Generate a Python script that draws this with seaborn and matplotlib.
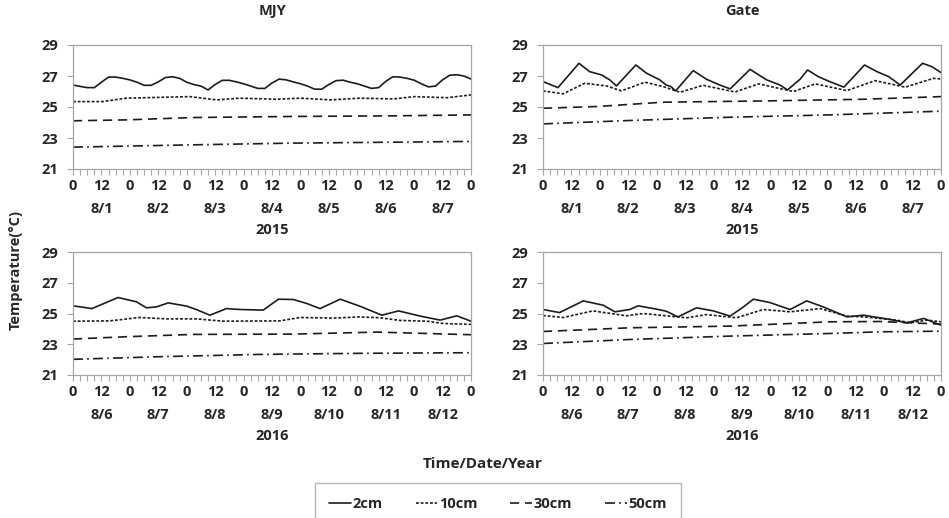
import matplotlib
matplotlib.use("Agg")
import matplotlib.pyplot as plt
from matplotlib.lines import Line2D
from matplotlib.ticker import MultipleLocator
import pandas as pd
import seaborn as sns

# ---- soil temperature records (hour since start of period, °C) ----
depths = ["2cm", "10cm", "30cm", "50cm"]
dates_2015 = ["8/1", "8/2", "8/3", "8/4", "8/5", "8/6", "8/7"]
dates_2016 = ["8/6", "8/7", "8/8", "8/9", "8/10", "8/11", "8/12"]
hour_ticks = ["0", "12"] * 7 + ["0"]
y_ticks = [21, 23, 25, 27, 29]

# MJY 2015
mjy15_h_2 = [0, 3, 6, 9, 12, 15, 18, 21, 24, 27, 30, 33, 36, 39, 42, 45, 48, 51, 54, 57,
             60, 63, 66, 69, 72, 75, 78, 81, 84, 87, 90, 93, 96, 99, 102, 105, 108, 111,
             114, 117, 120, 123, 126, 129, 132, 135, 138, 141, 144, 147, 150, 153, 156,
             159, 162, 165, 168]
mjy15_t_2 = [26.42, 26.33, 26.25, 26.25, 26.6, 26.93, 26.93, 26.85, 26.75, 26.6, 26.4,
             26.4, 26.62, 26.9, 26.95, 26.85, 26.6, 26.45, 26.35, 26.1, 26.45, 26.72,
             26.72, 26.62, 26.5, 26.35, 26.2, 26.2, 26.55, 26.8, 26.75, 26.62, 26.5,
             26.35, 26.15, 26.15, 26.45, 26.7, 26.73, 26.6, 26.5, 26.35, 26.2, 26.25,
             26.65, 26.95, 26.93, 26.85, 26.73, 26.5, 26.3, 26.35, 26.75, 27.05, 27.08,
             27.0, 26.8]
mjy15_h_10 = [0, 12.7, 22.5, 49.3, 60.6, 70.5, 86, 96, 108.5, 121, 135.3, 144, 158, 168]
mjy15_t_10 = [25.35, 25.35, 25.57, 25.67, 25.46, 25.57, 25.5, 25.57, 25.46, 25.57, 25.52,
              25.67, 25.6, 25.78]
mjy15_h_30 = [0, 22.6, 50.7, 93, 135.3, 168]
mjy15_t_30 = [24.11, 24.17, 24.32, 24.39, 24.43, 24.49]
mjy15_h_50 = [0, 50.7, 93, 135.3, 168]
mjy15_t_50 = [22.41, 22.56, 22.67, 22.73, 22.78]

# Gate 2015
gate15_h_2 = [0, 6.3, 15.2, 19.7, 24.7, 28.2, 31, 39.2, 43.7, 49.3, 52, 54, 56, 63.4, 69,
              74.6, 79, 87.4, 94.4, 100, 103.2, 108.5, 111.7, 116.2, 121, 127, 132.5,
              135.7, 141, 145.9, 150.8, 160.2, 164.2, 168]
gate15_t_2 = [26.64, 26.25, 27.82, 27.28, 27.07, 26.75, 26.36, 27.71, 27.18, 26.75, 26.42,
              26.32, 26.04, 27.35, 26.79, 26.42, 26.17, 27.43, 26.75, 26.42, 26.1, 26.79,
              27.39, 26.96, 26.64, 26.28, 27.18, 27.71, 27.28, 26.96, 26.42, 27.82, 27.6,
              27.22]
gate15_h_10 = [0, 8.5, 17.6, 26.8, 33.1, 43, 50.7, 57.8, 67.6, 81, 91, 105.7, 114.9, 128.3,
               140.2, 152.9, 164.9, 168]
gate15_t_10 = [26.04, 25.85, 26.53, 26.36, 26.04, 26.6, 26.32, 25.95, 26.4, 25.97, 26.49,
               26.0, 26.49, 26.06, 26.7, 26.28, 26.85, 26.81]
gate15_h_30 = [0, 22.6, 50.7, 93, 135.3, 168]
gate15_t_30 = [24.92, 25.03, 25.31, 25.39, 25.5, 25.67]
gate15_h_50 = [0, 36.6, 79, 121, 168]
gate15_t_50 = [23.91, 24.13, 24.34, 24.49, 24.73]

# MJY 2016
mjy16_h_2 = [0, 8, 19, 26.8, 31, 35.2, 40.2, 48, 52, 57.8, 64.8, 70.5, 80.3, 86.7, 93, 98.7,
             104.3, 112.8, 121, 130.4, 137.4, 146.6, 155, 162, 168]
mjy16_t_2 = [25.5, 25.32, 26.04, 25.76, 25.37, 25.43, 25.69, 25.48, 25.26, 24.89, 25.32,
             25.26, 25.22, 25.93, 25.91, 25.65, 25.32, 25.93, 25.48, 24.89, 25.17, 24.83,
             24.57, 24.85, 24.5]
mjy16_h_10 = [0, 15.5, 28.2, 39.5, 52, 63.4, 87.4, 95.8, 110, 121, 129.7, 138, 149.4, 156.4,
              168]
mjy16_t_10 = [24.5, 24.52, 24.74, 24.65, 24.65, 24.5, 24.52, 24.74, 24.7, 24.78, 24.72,
              24.55, 24.5, 24.35, 24.29]
mjy16_h_30 = [0, 22.6, 50.7, 93, 128.3, 149.4, 168]
mjy16_t_30 = [23.34, 23.49, 23.64, 23.66, 23.79, 23.7, 23.62]
mjy16_h_50 = [0, 36.6, 79, 121, 168]
mjy16_t_50 = [22.02, 22.19, 22.34, 22.41, 22.45]

# Gate 2016
gate16_h_2 = [0, 7, 17, 25.4, 30.3, 36.6, 40.2, 48, 52, 57, 64.8, 71.9, 79, 84.6, 88.8,
              95.8, 104.3, 111.3, 118.3, 128.3, 135.3, 146.6, 153.6, 160.7, 168]
gate16_t_2 = [25.26, 25.06, 25.82, 25.54, 25.11, 25.26, 25.5, 25.28, 25.15, 24.78, 25.37,
              25.17, 24.83, 25.43, 25.93, 25.71, 25.26, 25.82, 25.43, 24.78, 24.89, 24.61,
              24.39, 24.68, 24.24]
gate16_h_10 = [0, 8.5, 21.1, 35.2, 42.3, 60.6, 69, 81.7, 93, 104.3, 117, 128.3, 135.3,
               149.4, 155, 162, 168]
gate16_t_10 = [24.87, 24.74, 25.17, 24.85, 25.0, 24.72, 24.93, 24.72, 25.26, 25.11, 25.32,
               24.83, 24.78, 24.57, 24.39, 24.57, 24.46]
gate16_h_30 = [0, 36.6, 79, 121, 142, 168]
gate16_t_30 = [23.83, 24.07, 24.18, 24.46, 24.48, 24.31]
gate16_h_50 = [0, 36.6, 79, 121, 142, 168]
gate16_t_50 = [23.05, 23.31, 23.53, 23.7, 23.81, 23.85]


def long_table(series):
    frames = []
    for depth, (hours, temps) in zip(depths, series):
        frames.append(pd.DataFrame({"hour": hours, "temp": temps, "depth": depth}))
    return pd.concat(frames, ignore_index=True)


panels = [
    ("MJY", "2015", dates_2015, long_table([(mjy15_h_2, mjy15_t_2), (mjy15_h_10, mjy15_t_10),
                                            (mjy15_h_30, mjy15_t_30), (mjy15_h_50, mjy15_t_50)])),
    ("Gate", "2015", dates_2015, long_table([(gate15_h_2, gate15_t_2), (gate15_h_10, gate15_t_10),
                                             (gate15_h_30, gate15_t_30), (gate15_h_50, gate15_t_50)])),
    (None, "2016", dates_2016, long_table([(mjy16_h_2, mjy16_t_2), (mjy16_h_10, mjy16_t_10),
                                           (mjy16_h_30, mjy16_t_30), (mjy16_h_50, mjy16_t_50)])),
    (None, "2016", dates_2016, long_table([(gate16_h_2, gate16_t_2), (gate16_h_10, gate16_t_10),
                                           (gate16_h_30, gate16_t_30), (gate16_h_50, gate16_t_50)])),
]

line_styles = {
    "2cm": "-",
    "10cm": (0, (1.7, 1.1)),
    "30cm": (0, (5.5, 3.5)),
    "50cm": (0, (6, 2.5, 1, 2.5)),
}
LINE = "#1c1c1c"
TEXT = "#262626"
FRAME = "#a6a6a6"
FS = 10.5

sns.set_theme(style="ticks")
plt.rcParams["font.family"] = ["Open Sans", "DejaVu Sans"]
plt.rcParams["font.weight"] = "bold"
plt.rcParams["text.color"] = TEXT

W, H = 949, 518
fig = plt.figure(figsize=(W / 100, H / 100), dpi=100)
fig.patch.set_facecolor("white")


def box(left, top, right, bottom):
    return fig.add_axes([left / W, 1 - bottom / H, (right - left) / W, (bottom - top) / H])


boxes = [(73, 45, 471, 169), (543, 45, 941, 169), (73, 252, 471, 375), (543, 252, 941, 375)]

for (name, year, dates, df), rect in zip(panels, boxes):
    ax = box(*rect)
    for depth in depths:
        sub = df[df["depth"] == depth]
        sns.lineplot(data=sub, x="hour", y="temp", ax=ax, color=LINE, lw=1.2,
                     linestyle=line_styles[depth], estimator=None, sort=False)
    ax.set_xlim(0, 168)
    ax.set_ylim(21, 29)
    ax.set_yticks(y_ticks)
    ax.set_yticklabels([str(v) for v in y_ticks], fontsize=FS, fontweight="bold", color=TEXT)
    ax.set_xticks(range(0, 169, 12))
    ax.set_xticklabels(hour_ticks, fontsize=FS, fontweight="bold", color=TEXT)
    ax.xaxis.set_minor_locator(MultipleLocator(3))
    ax.tick_params(axis="x", which="both", length=4, width=0.8, color=FRAME, pad=3)
    ax.tick_params(axis="y", length=4, width=0.8, color=FRAME, pad=7)
    ax.set_xlabel("")
    ax.set_ylabel("")
    for sp in ax.spines.values():
        sp.set_visible(True)
        sp.set_color(FRAME)
        sp.set_linewidth(0.9)
    for k, d in enumerate(dates):
        ax.annotate(d, xy=(12 + 24 * k, 0), xycoords=("data", "axes fraction"),
                    xytext=(0, -40), textcoords="offset pixels", ha="center", va="center",
                    fontsize=FS, fontweight="bold", color=TEXT)
    ax.annotate(year, xy=(0.5, 0), xycoords="axes fraction", xytext=(0, -61),
                textcoords="offset pixels", ha="center", va="center",
                fontsize=FS, fontweight="bold", color=TEXT)
    if name:
        cx = (rect[0] + rect[2]) / 2
        fig.text(cx / W, 1 - 11 / H, name, ha="center", va="center",
                 fontsize=FS, fontweight="bold", color=TEXT)

fig.text(16 / W, 1 - 270 / H, "Temperature(°C)", rotation=90, ha="center", va="center",
         fontsize=FS, fontweight="bold", color=TEXT)
fig.text(483 / W, 1 - 464 / H, "Time/Date/Year", ha="center", va="center",
         fontsize=FS + 0.5, fontweight="bold", color=TEXT)

handles = [Line2D([], [], color=LINE, lw=1.2, linestyle=line_styles[d]) for d in depths]
leg = fig.legend(handles, depths, loc="upper center", bbox_to_anchor=(498 / W, 1 - 483 / H),
                 ncol=4, frameon=True, fancybox=False, handlelength=1.5, handletextpad=0.1,
                 columnspacing=2.25, borderpad=0.95, borderaxespad=0.0,
                 prop={"size": FS, "weight": "bold"})
leg.get_frame().set_edgecolor(FRAME)
leg.get_frame().set_linewidth(1.0)
for t in leg.get_texts():
    t.set_color(TEXT)

fig.savefig("out.png", dpi=100, facecolor="white")
